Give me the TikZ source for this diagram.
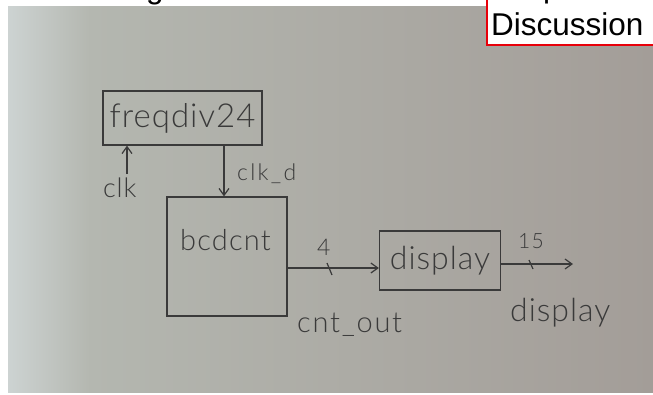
\documentclass[tikz,border=0pt]{standalone}
\usepackage{fontspec}
\setmainfont{Liberation Sans}
\newfontfamily\hand{Lato Light}
\usetikzlibrary{arrows.meta}
\definecolor{ink}{HTML}{3A3A3A}
\definecolor{paperA}{HTML}{CDD3D2}
\definecolor{paperB}{HTML}{B4B7B0}
\definecolor{paperC}{HTML}{ADAEA8}
\definecolor{paperD}{HTML}{A39D98}
\definecolor{boxred}{HTML}{E8000A}
\tikzset{
  wire/.style={draw=ink, line width=1.2pt},
  tipped/.style={wire, -{Straight Barb[length=7pt,width=10pt,line width=1.2pt]}},
  blockbox/.style={draw=ink, line width=1.2pt, inner sep=0pt, text=ink},
  hw/.style={text=ink, inner sep=0pt, anchor=base west},
}
\newcommand{\hw}[2]{\hand\addfontfeature{LetterSpace=#2}\fontsize{#1}{#1}\selectfont}
\begin{document}
\begin{tikzpicture}[x=1pt,y=-1pt]
\useasboundingbox (0,0) rectangle (653,394);
\fill[white] (0,0) rectangle (653,394);
% photo background
\shade[left color=paperA, right color=paperB] (8,6) rectangle (90,392);
\shade[left color=paperB, middle color=paperC, right color=paperD] (90,6) rectangle (653,392);

\begin{scope}
\clip (0,0) rectangle (653,394);
% cut-off header text
\node[anchor=base west, inner sep=0pt, font=\fontsize{31.5}{36}\selectfont] (hdrg) at (146,-2) {g};
\fill[white] (0,6) rectangle (487,12);
\shade[left color=paperA, right color=paperB] (8,6) rectangle (90,12);
\shade[left color=paperB, middle color=paperC, right color=paperD] (90,6) rectangle (653,12);
\draw[boxred, line width=2pt, fill=white] (487,-10) rectangle (665,45);
\node[anchor=base west, inner sep=0pt, font=\fontsize{31.5}{36}\selectfont] (hdrp) at (543,-3) {p};
\node[anchor=base west, inner sep=0pt, font=\fontsize{31.5}{36}\selectfont] (disc) at (491,35) {Discussion};
\end{scope}

% blocks
\node[blockbox, minimum width=159pt, minimum height=54pt, font=\hw{33}{3}] (fq) at (182.5,118) {freqdiv24};
\node[blockbox, minimum width=120pt, minimum height=119pt] (bcd) at (227,256.5) {};
\node[hw, font=\hw{29}{4}] (bcdtxt) at (180,250) {bcdcnt};
\node[blockbox, minimum width=121pt, minimum height=59pt, font=\hw{32}{3}] (disp) at (440,260.5) {display};

% connectors
\coordinate (clkin) at (127,174);
\draw[tipped] (clkin) -- (clkin |- fq.south);
\coordinate (clkd) at (224,0);
\draw[tipped] (fq.south -| clkd) -- (bcd.north -| clkd);
\coordinate (cnty) at (0,268);
\draw[tipped] (bcd.east |- cnty) -- (disp.west |- cnty);
\coordinate (outend) at (573,264);
\draw[tipped] (disp.east |- outend) -- (outend);

% bus width ticks
\draw[wire] (327,263) -- (332,275);
\draw[wire] (529,260) -- (533,269);

% labels
\node[hw, font=\hw{27}{3}] (clklbl) at (103,197) {clk};
\node[hw, font=\hw{23}{10}] (clkdlbl) at (237,180) {clk\_d};
\node[hw, font=\hw{23}{0}] (four) at (317,255) {4};
\node[hw, font=\hw{29}{6}] (cntlbl) at (297,332) {cnt\_out};
\node[hw, font=\hw{21}{6}] (fifteen) at (518,248) {15};
\node[hw, font=\hw{32}{3}] (displbl) at (510,321) {display};
\end{tikzpicture}
\end{document}
